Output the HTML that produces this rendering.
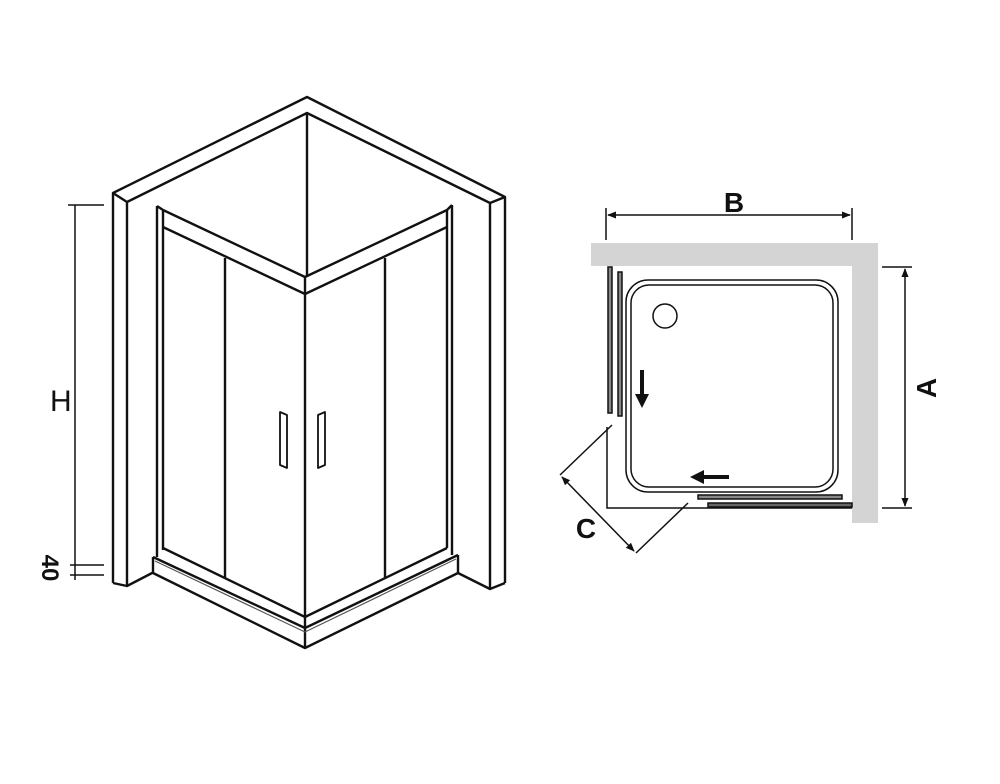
<!DOCTYPE html>
<html><head><style>html,body{margin:0;padding:0;background:#fff;width:1000px;height:784px;overflow:hidden}</style></head>
<body>
<svg width="1000" height="784" viewBox="0 0 1000 784" xmlns="http://www.w3.org/2000/svg">
<defs>
<marker id="ar" viewBox="0 0 10 10" refX="9" refY="5" markerWidth="6" markerHeight="6" orient="auto-start-reverse"><path d="M0,1 L10,5 L0,9 z" fill="#111"/></marker>
</defs>
<g fill="none" stroke="#111" stroke-width="2.4" stroke-linejoin="round">
<!-- walls -->
<polyline points="113,583 113,193 307,97 505,197 505,583"/>
<polyline points="127,586 127,202 307,113 490,203 490,589"/>
<line x1="113" y1="193" x2="127" y2="202"/>
<line x1="505" y1="197" x2="490" y2="203"/>
<line x1="307" y1="113" x2="307" y2="277"/>
<polyline points="113,583 127,586 154,572"/>
<polyline points="505,583 490,589 458,573"/>
<!-- tray -->
<polyline points="153,557 153,573 305,648 458,573 458,555"/>
<polyline points="153,557 305,628 458,555"/>
<line x1="305" y1="628" x2="305" y2="648"/>
<polyline points="155,561 305,632 456,559" stroke-width="1.2" stroke="#555"/>
<!-- frame -->
<line x1="157" y1="206" x2="157" y2="557"/>
<line x1="163" y1="210" x2="163" y2="550"/>
<line x1="157" y1="206" x2="163" y2="210"/>
<line x1="452" y1="205" x2="452" y2="555"/>
<line x1="447" y1="210" x2="447" y2="548"/>
<line x1="452" y1="205" x2="447" y2="210"/>
<polyline points="163,210 305,277 447,210"/>
<polyline points="163,227 305,294 447,227"/>
<line x1="305" y1="277" x2="305" y2="294"/>
<polyline points="163,548 305,617 447,548"/>
<line x1="305" y1="294" x2="305" y2="628"/>
<line x1="225" y1="258" x2="225" y2="578"/>
<line x1="385" y1="258" x2="385" y2="578"/>
<!-- handles -->
<polygon points="280,412 287,415 287,468 280,465" stroke-width="1.8"/>
<polygon points="318,415 325,412 325,465 318,468" stroke-width="1.8"/>
</g>
<!-- H dimension -->
<g stroke="#111" stroke-width="1.5" fill="none">
<line x1="75" y1="205" x2="75" y2="580"/>
<line x1="68" y1="205" x2="104" y2="205"/>
<line x1="70" y1="565" x2="104" y2="565"/>
<line x1="70" y1="575" x2="104" y2="575"/>
</g>
<text x="50" y="411" font-family="Liberation Sans, sans-serif" font-size="30" fill="#111">H</text>
<text transform="translate(42,568) rotate(90)" font-family="Liberation Sans, sans-serif" font-weight="bold" font-size="24" fill="#111" text-anchor="middle">40</text>
<!-- right plan -->
<rect x="591" y="243" width="287" height="23" fill="#d4d4d4"/>
<rect x="852" y="243" width="26" height="280" fill="#d4d4d4"/>
<g stroke="#111" stroke-width="1.5" fill="none">
<line x1="606" y1="208" x2="606" y2="240"/>
<line x1="852" y1="208" x2="852" y2="240"/>
<line x1="608" y1="215" x2="850" y2="215" marker-start="url(#ar)" marker-end="url(#ar)"/>
<line x1="882" y1="267" x2="912" y2="267"/>
<line x1="882" y1="508" x2="912" y2="508"/>
<line x1="905" y1="269" x2="905" y2="506" marker-start="url(#ar)" marker-end="url(#ar)"/>
<polyline points="607,427 607,508 852,508"/>
<polyline points="612,425 560,475"/>
<polyline points="688,503 636,553"/>
<line x1="562" y1="477" x2="634" y2="551" marker-start="url(#ar)" marker-end="url(#ar)"/>
<rect x="626" y="280" width="212" height="212" rx="22"/>
<rect x="631" y="285" width="202" height="202" rx="18"/>
<circle cx="665" cy="316" r="12"/>
<rect x="608" y="267" width="4" height="146" fill="#888"/>
<rect x="618" y="272" width="4" height="144" fill="#888"/>
<rect x="698" y="495" width="144" height="4" fill="#888"/>
<rect x="708" y="503" width="144" height="4" fill="#666"/>
</g>
<g fill="#111">
<rect x="640" y="370" width="4" height="26"/>
<polygon points="635,394 649,394 642,408"/>
<rect x="703" y="475" width="26" height="4"/>
<polygon points="704,470 704,484 690,477"/>
</g>
<text x="734" y="212" font-family="Liberation Sans, sans-serif" font-weight="bold" font-size="28" fill="#111" text-anchor="middle">B</text>
<text transform="translate(936,388) rotate(-90)" font-family="Liberation Sans, sans-serif" font-weight="bold" font-size="28" fill="#111" text-anchor="middle">A</text>
<text x="586" y="538" font-family="Liberation Sans, sans-serif" font-weight="bold" font-size="28" fill="#111" text-anchor="middle">C</text>
</svg>
</body></html>
